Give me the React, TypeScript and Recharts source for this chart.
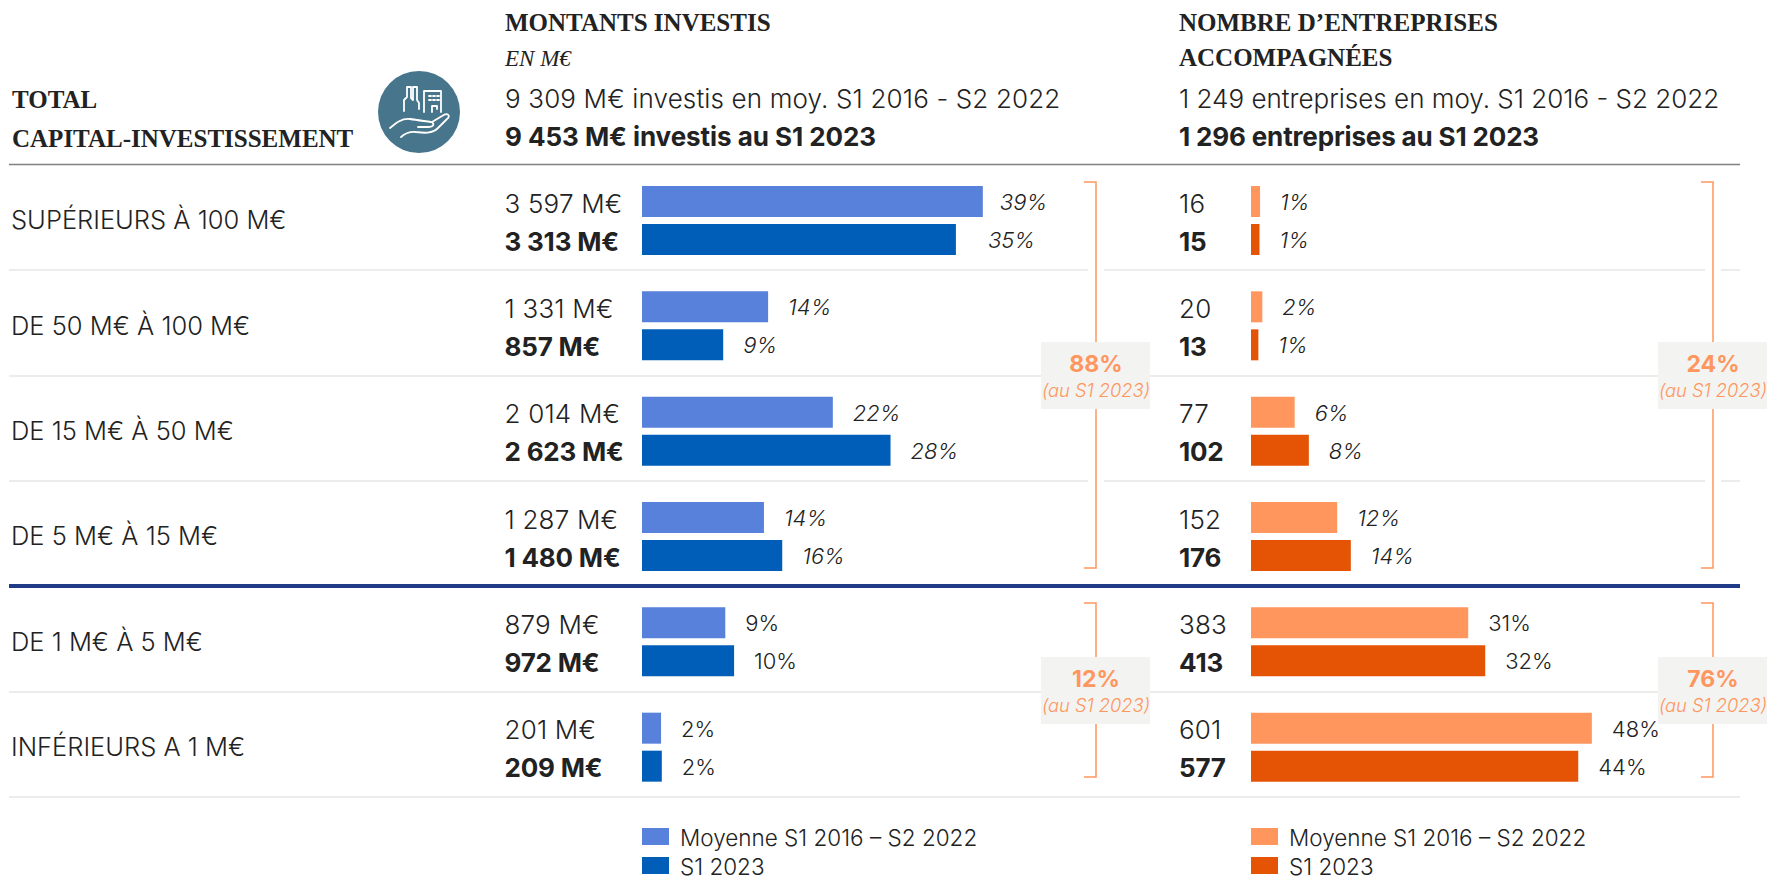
import { Bar, BarChart, LabelList, Legend, XAxis, YAxis } from "recharts";

const categories = [
  "SUPÉRIEURS À 100 M€",
  "DE 50 M€ À 100 M€",
  "DE 15 M€ À 50 M€",
  "DE 5 M€ À 15 M€",
  "DE 1 M€ À 5 M€",
  "INFÉRIEURS A 1 M€",
];
const montantsMoyenne = [3597, 1331, 2014, 1287, 879, 201];
const montants2023 = [3313, 857, 2623, 1480, 972, 209];
const montantsMoyennePct = [39, 14, 22, 14, 9, 2];
const montants2023Pct = [35, 9, 28, 16, 10, 2];
const entreprisesMoyenne = [16, 20, 77, 152, 383, 601];
const entreprises2023 = [15, 13, 102, 176, 413, 577];
const entreprisesMoyennePct = [1, 2, 6, 12, 31, 48];
const entreprises2023Pct = [1, 1, 8, 14, 32, 44];

const SANS = "Inter, sans-serif";
const SERIF = "'Liberation Serif', serif";
const INK = "#222222";
const BLUE_LIGHT = "#5781DB";
const BLUE_DARK = "#005EB8";
const ORANGE_LIGHT = "#FF965E";
const ORANGE_DARK = "#E55304";

const fmt = (v: number) => String(v).replace(/\B(?=(\d{3})+$)/g, " ");

const table = (moy: number[], cur: number[], moyPct: number[], curPct: number[]) =>
  categories.map((name, i) => ({ name, moy: moy[i], cur: cur[i], moyPct: moyPct[i], curPct: curPct[i] }));

const montantsData = table(montantsMoyenne, montants2023, montantsMoyennePct, montants2023Pct);
const entreprisesData = table(entreprisesMoyenne, entreprises2023, entreprisesMoyennePct, entreprises2023Pct);

// first four rows have italic percentages in the source; "extra" shifts the top row's label only
const pctLabel = (extra = 0) => ({ x, y, width, height, value, index }: any) => (
  <text x={x + width + 20 + (index === 0 ? extra : 0)} y={y + height / 2 + 8.5} fontFamily={SANS} fontWeight={300} fontSize={22}
    fontStyle={index < 4 ? "italic" : "normal"} fill={INK}>
    {value}%
  </text>
);

const valueLabel = (textX: number, bold: boolean, unit: string) => ({ y, height, value }: any) => (
  <text x={textX} y={y + height / 2 + 11} fontFamily={SANS} fontWeight={bold ? 700 : 300} fontSize={26}
    letterSpacing={bold ? -0.2 : 0.2} fill={INK}>
    {fmt(value)}{unit}
  </text>
);

const CategoryTick = ({ y, payload }: any) => (
  <text x={11} y={y + 8.5} fontFamily={SANS} fontWeight={300} fontSize={25.5} fill={INK}>
    {payload.value}
  </text>
);

const legendContent = ({ payload }: any) => (
  <div>
    {payload.map((p: any) => (
      <div key={p.value} style={{ display: "flex", alignItems: "center", height: 29, fontFamily: SANS, fontWeight: 300, fontSize: 22.5, color: INK, whiteSpace: "nowrap" }}>
        <span style={{ width: 27, height: 17, background: p.color, marginRight: 11, position: "relative", top: -1 }} />
        {p.value}
      </div>
    ))}
  </div>
);

function Panel({ data, left, width, marginLeft, plotWidth, max, valueX, unit, light, dark, withAxis, firstLightExtra, firstDarkExtra }: any) {
  return (
    <div style={{ position: "absolute", left, top: 0 }}>
      <BarChart width={width} height={879} data={data} layout="vertical" barSize={31} barGap={7}
        margin={{ top: 168, bottom: 79, left: withAxis ? 0 : marginLeft, right: width - marginLeft - plotWidth }}>
        <XAxis type="number" domain={[0, max]} hide />
        <YAxis type="category" dataKey="name" width={withAxis ? marginLeft : 0} hide={!withAxis}
          axisLine={false} tickLine={false} tick={CategoryTick} interval={0} />
        <Legend layout="horizontal" verticalAlign="middle" align="center" content={legendContent}
          wrapperStyle={{ left: marginLeft, top: 823, width: 400, height: 60 }} />
        <Bar dataKey="moy" name="Moyenne S1 2016 – S2 2022" fill={light} isAnimationActive={false}>
          <LabelList dataKey="moyPct" content={pctLabel(firstLightExtra)} />
          <LabelList dataKey="moy" content={valueLabel(valueX, false, unit)} />
        </Bar>
        <Bar dataKey="cur" name="S1 2023" fill={dark} isAnimationActive={false}>
          <LabelList dataKey="curPct" content={pctLabel(firstDarkExtra)} />
          <LabelList dataKey="cur" content={valueLabel(valueX, true, unit)} />
        </Bar>
      </BarChart>
    </div>
  );
}

const sep = [270, 376, 481, 692];

function Bracket({ x, top, bottom }: any) {
  return (
    <path d={`M${x - 12} ${top}H${x}V${bottom}H${x - 12}`} fill="none" stroke={ORANGE_LIGHT} strokeWidth={1.5} />
  );
}

function ShareBox({ x, y, pct }: any) {
  return (
    <g textAnchor="middle">
      <rect x={x - 55} y={y} width={109} height={67} fill="#F3F3F1" />
      <text x={x} y={y + 30} fontFamily={SANS} fontWeight={700} fontSize={23} fill={ORANGE_LIGHT}>{pct}</text>
      <text x={x} y={y + 55} fontFamily={SANS} fontWeight={300} fontStyle="italic" fontSize={18.3} fill={ORANGE_LIGHT}>(au S1 2023)</text>
    </g>
  );
}

function Icon() {
  return (
    <g>
      <circle cx={419} cy={112} r={41} fill="#47758B" />
      <g fill="none" stroke="#fff" strokeWidth={1.8} strokeLinejoin="round" strokeLinecap="round">
        <path d="M404 111V100L407 97V87H411V98L413 100V87H417V100L419 103V109" />
        <path d="M424 112V91H441V112" />
        <path d="M429 96h2M433 96h2M437 96h2M429 100h2M433 100h2M437 100h2M432 112V106H437V109" />
        <path d="M390 128C396 123 402 118 410 119C416 120 424 121 431 122C435 123 434 127 428 127H418" />
        <path d="M432 122L442 116C448 112 451 116 447 119L438 128C432 134 424 133 416 132C410 131 404 134 401 137" />
      </g>
    </g>
  );
}

function Chrome() {
  const textProps = { fontFamily: SANS, fill: INK, fontSize: 26 };
  const serif = { fontFamily: SERIF, fill: INK, fontSize: 25, fontWeight: 700 };
  return (
    <svg width={1770} height={879} style={{ position: "absolute", left: 0, top: 0, pointerEvents: "none" }}>
      <line x1={9} x2={1740} y1={164.5} y2={164.5} stroke="#808080" strokeWidth={1.5} />
      {sep.map((y) => (
        <g key={y} stroke="#E6E6E6" strokeWidth={1.5}>
          <line x1={9} x2={1088} y1={y} y2={y} />
          <line x1={1104} x2={1705} y1={y} y2={y} />
          <line x1={1721} x2={1740} y1={y} y2={y} />
        </g>
      ))}
      <line x1={9} x2={1740} y1={797} y2={797} stroke="#E6E6E6" strokeWidth={1.5} />
      <line x1={9} x2={1740} y1={586} y2={586} stroke="#1F3A87" strokeWidth={4} />

      <text x={12} y={108} {...serif}>TOTAL</text>
      <text x={12} y={147} {...serif}>CAPITAL-INVESTISSEMENT</text>
      <Icon />

      <text x={505} y={31} {...serif}>MONTANTS INVESTIS</text>
      <text x={505} y={66} {...serif} fontSize={23} fontWeight={400} fontStyle="italic">EN M€</text>
      <text x={505} y={108} {...textProps} fontWeight={300} letterSpacing={0.15}>9 309 M€ investis en moy. S1 2016 - S2 2022</text>
      <text x={505} y={146} {...textProps} fontWeight={700} letterSpacing={-0.05}>9 453 M€ investis au S1 2023</text>

      <text x={1179} y={31} {...serif}>NOMBRE D’ENTREPRISES</text>
      <text x={1179} y={66} {...serif}>ACCOMPAGNÉES</text>
      <text x={1179} y={108} {...textProps} fontWeight={300}>1 249 entreprises en moy. S1 2016 - S2 2022</text>
      <text x={1179} y={146} {...textProps} fontWeight={700} letterSpacing={-0.15}>1 296 entreprises au S1 2023</text>

      <Bracket x={1096} top={182} bottom={568} />
      <Bracket x={1096} top={603} bottom={777} />
      <Bracket x={1713} top={182} bottom={568} />
      <Bracket x={1713} top={603} bottom={777} />
      <ShareBox x={1096} y={342} pct="88%" />
      <ShareBox x={1096} y={657} pct="12%" />
      <ShareBox x={1713} y={342} pct="24%" />
      <ShareBox x={1713} y={657} pct="76%" />
    </svg>
  );
}

export default function App() {
  return (
    <div style={{ position: "absolute", left: 0, top: 0, width: 1770, height: 879, background: "#fff", overflow: "hidden" }}>
      <Panel data={montantsData} left={0} width={1100} marginLeft={642} plotWidth={379} max={4000}
        valueX={504.5} unit=" M€" light={BLUE_LIGHT} dark={BLUE_DARK} withAxis firstLightExtra={-3} firstDarkExtra={12} />
      <Panel data={entreprisesData} left={1100} width={670} marginLeft={151} plotWidth={397} max={700}
        valueX={79} unit="" light={ORANGE_LIGHT} dark={ORANGE_DARK} withAxis={false} firstLightExtra={0} firstDarkExtra={0} />
      <Chrome />
    </div>
  );
}
